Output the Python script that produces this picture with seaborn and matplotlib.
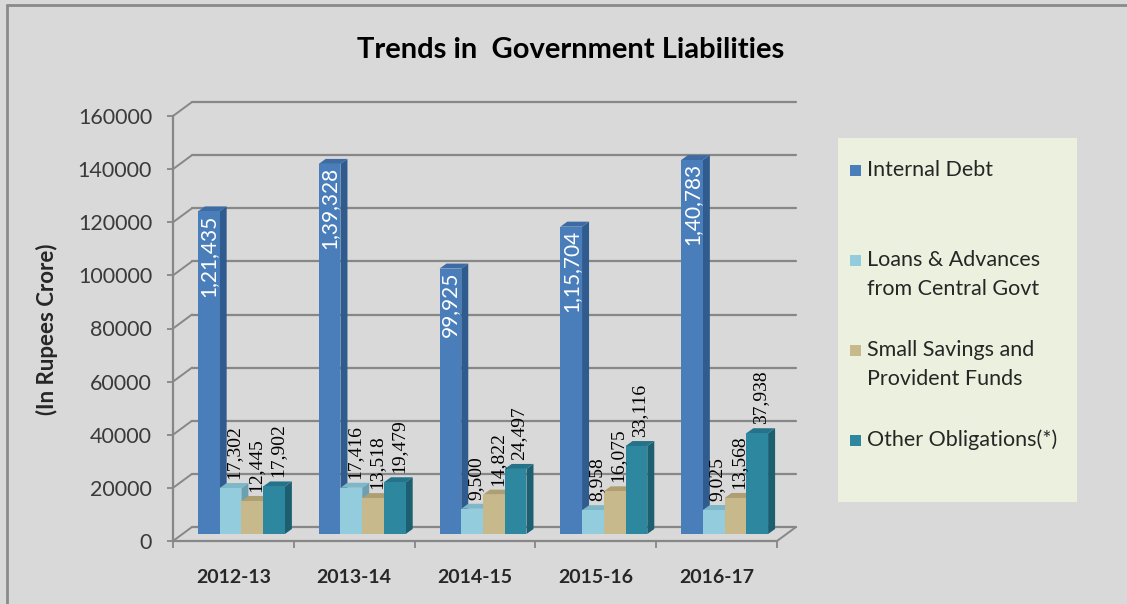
import matplotlib
matplotlib.use("Agg")
import matplotlib.pyplot as plt
import matplotlib.colors as mcolors
from matplotlib.transforms import ScaledTranslation, IdentityTransform
from matplotlib.patches import Polygon, Rectangle
from matplotlib.lines import Line2D
import numpy as np
import pandas as pd
import seaborn as sns

# ---- data (Rs. crore) ----
years = ["2012-13", "2013-14", "2014-15", "2015-16", "2016-17"]
internal_debt = [121435, 139328, 99925, 115704, 140783]
loans_advances = [17302, 17416, 9500, 8958, 9025]
small_savings = [12445, 13518, 14822, 16075, 13568]
other_obligations = [17902, 19479, 24497, 33116, 37938]
series_names = ["Internal Debt",
                "Loans & Advances\nfrom Central Govt",
                "Small Savings and\nProvident Funds",
                "Other Obligations(*)"]
y_ticks = [0, 20000, 40000, 60000, 80000, 100000, 120000, 140000, 160000]

# ---- styling ----
BG = "#d9d9d9"
AXIS = "#878787"
front_cols = ["#4a7ebb", "#93cddd", "#c8b98c", "#2c879f"]
side_cols = ["#2f5b8f", "#6aa0b1", "#9a8d62", "#1c5f70"]
top_cols = ["#3d6ca5", "#7db7c8", "#ae9f72", "#24738a"]

sns.set_style("white")
plt.rcParams["font.family"] = ["Lato", "DejaVu Sans"]

W, H, DPI = 1127, 604, 100
fig = plt.figure(figsize=(W / DPI, H / DPI), dpi=DPI, facecolor=BG)


def fx(px):
    return px / W


def fy(py):
    return 1 - py / H


ax = fig.add_axes([fx(173), fy(541), (777 - 173) / W, (541 - 116) / H])
ax.set_facecolor("none")

df = pd.DataFrame({
    "Year": np.tile(years, 4),
    "Series": np.repeat(series_names, len(years)),
    "Value": internal_debt + loans_advances + small_savings + other_obligations,
})

sns.barplot(data=df, x="Year", y="Value", hue="Series", order=years,
            hue_order=series_names, palette=front_cols, width=0.72,
            saturation=1, linewidth=0, legend=False, ax=ax)

ax.set_xlim(-0.5, len(years) - 0.5)
ax.set_ylim(y_ticks[0], y_ticks[-1])

# pixel offsets (display units) for the pseudo 3-D look
wall = (19, 14)      # back wall relative to front axis
shift = (8, 7)       # bar front faces sit mid-depth
depth = (7, 5)       # bar thickness
px = lambda dx, dy: ScaledTranslation(dx / DPI, dy / DPI, fig.dpi_scale_trans)
ident = IdentityTransform()


def fmt_inr(v):
    s = str(int(v))
    if len(s) <= 3:
        return s
    last3, rest = s[-3:], s[:-3]
    groups = []
    while len(rest) > 2:
        groups.insert(0, rest[-2:])
        rest = rest[:-2]
    if rest:
        groups.insert(0, rest)
    return ",".join(groups + [last3])


# back wall gridlines and connectors to the front axis
for v in y_ticks:
    ax.plot([0, 1], [v, v], transform=ax.get_yaxis_transform() + px(*wall),
            color=AXIS, lw=1.6, clip_on=False, zorder=0.5)
    x0, y0 = ax.transData.transform((-0.5, v))
    ax.add_line(Line2D([x0, x0 + wall[0]], [y0, y0 + wall[1]], transform=ident,
                       color=AXIS, lw=1.4, clip_on=False, zorder=0.5))
xr, yr = ax.transData.transform((len(years) - 0.5, 0))
ax.add_line(Line2D([xr, xr + wall[0]], [yr, yr + wall[1]], transform=ident,
                   color=AXIS, lw=1.4, clip_on=False, zorder=0.5))

# bars: shift front faces, add side and top faces, value labels
front_rgb = [mcolors.to_rgb(c) for c in front_cols]
for cont in ax.containers:
    for bar in cont:
        fc = mcolors.to_rgb(bar.get_facecolor()[:3])
        k = int(np.argmin([np.sum((np.array(fc) - np.array(c)) ** 2) for c in front_rgb]))
        bx, bw, bh = bar.get_x(), bar.get_width(), bar.get_height()
        base_z = 2 + k * 0.3
        bar.set_transform(ax.transData + px(*shift))
        bar.set_zorder(base_z + 0.2)
        (x0, y0) = ax.transData.transform((bx, 0)) + np.array(shift)
        (x1, y1) = ax.transData.transform((bx + bw, bh)) + np.array(shift)
        dx, dy = depth
        side = Polygon([(x1, y0), (x1, y1), (x1 + dx, y1 + dy), (x1 + dx, y0 + dy)],
                       closed=True, transform=ident, facecolor=side_cols[k],
                       edgecolor="none", zorder=base_z, clip_on=False)
        top = Polygon([(x0, y1), (x1, y1), (x1 + dx, y1 + dy), (x0 + dx, y1 + dy)],
                      closed=True, transform=ident, facecolor=top_cols[k],
                      edgecolor="none", zorder=base_z + 0.1, clip_on=False)
        ax.add_patch(side)
        ax.add_patch(top)

        xc = bx + bw / 2
        label = fmt_inr(bh)
        if k == 0:
            ax.annotate(label, (xc, bh), xytext=(shift[0] * 0.72, (shift[1] - 3) * 0.72),
                        textcoords="offset points", rotation=90, ha="center", va="top",
                        color="white", fontsize=15, zorder=5)
        else:
            ax.annotate(label, (xc, bh),
                        xytext=((shift[0] + depth[0] / 2) * 0.72, (shift[1] + depth[1] + 4) * 0.72),
                        textcoords="offset points", rotation=90, ha="center", va="bottom",
                        color="black", fontsize=14, family="Liberation Serif", zorder=5)

# axes, ticks and labels
for s in ["top", "right"]:
    ax.spines[s].set_visible(False)
for s in ["left", "bottom"]:
    ax.spines[s].set_color(AXIS)
    ax.spines[s].set_linewidth(1.6)
    ax.spines[s].set_zorder(1)

ax.set_yticks(y_ticks)
ax.set_yticklabels([str(v) for v in y_ticks])
ax.tick_params(axis="y", direction="out", length=4, width=1.3, color=AXIS,
               pad=11, labelsize=15.5, labelcolor="#3a3a3a", left=True)
ax.set_xticks(range(len(years)))
ax.set_xticklabels(years, fontweight="bold")
ax.set_xticks(np.arange(-0.5, len(years)), minor=True)
ax.tick_params(axis="x", which="major", length=0, pad=20, labelsize=14,
               labelcolor="#262626")
ax.tick_params(axis="x", which="minor", direction="out", length=5, width=1.3,
               color=AXIS, bottom=True)
ax.set_xlabel("")
ax.set_ylabel("")
ax.grid(False)

fig.text(fx(47), fy(329), "(In Rupees Crore)", rotation=90, ha="center", va="center",
         fontsize=16, fontweight="bold", color="#262626")
fig.text(fx(571), fy(50), "Trends in  Government Liabilities", ha="center", va="center",
         fontsize=21, fontweight="bold", color="black")

# legend panel
fig.patches.append(Rectangle((fx(838), fy(502)), (1077 - 838) / W, (502 - 138) / H,
                             transform=fig.transFigure, facecolor="#ebf1de",
                             edgecolor="none", zorder=0))
for i, name in enumerate(series_names):
    yc = 170 + 90 * i
    fig.patches.append(Rectangle((fx(850), fy(yc + 6)), 11 / W, 11 / H,
                                 transform=fig.transFigure, facecolor=front_cols[i],
                                 edgecolor="none", zorder=1))
    for j, line in enumerate(name.split("\n")):
        fig.text(fx(867), fy(yc + 29 * j), line, ha="left", va="center",
                 fontsize=15.5, color="#262626")

# chart area frame (top and left edges)
fig.add_artist(Line2D([fx(7), 1], [fy(5), fy(5)], transform=fig.transFigure,
                      color="#8a8a8a", lw=2))
fig.add_artist(Line2D([fx(7), fx(7)], [fy(5), 0], transform=fig.transFigure,
                      color="#8a8a8a", lw=2))

fig.savefig("out.png", dpi=DPI, facecolor=BG)
